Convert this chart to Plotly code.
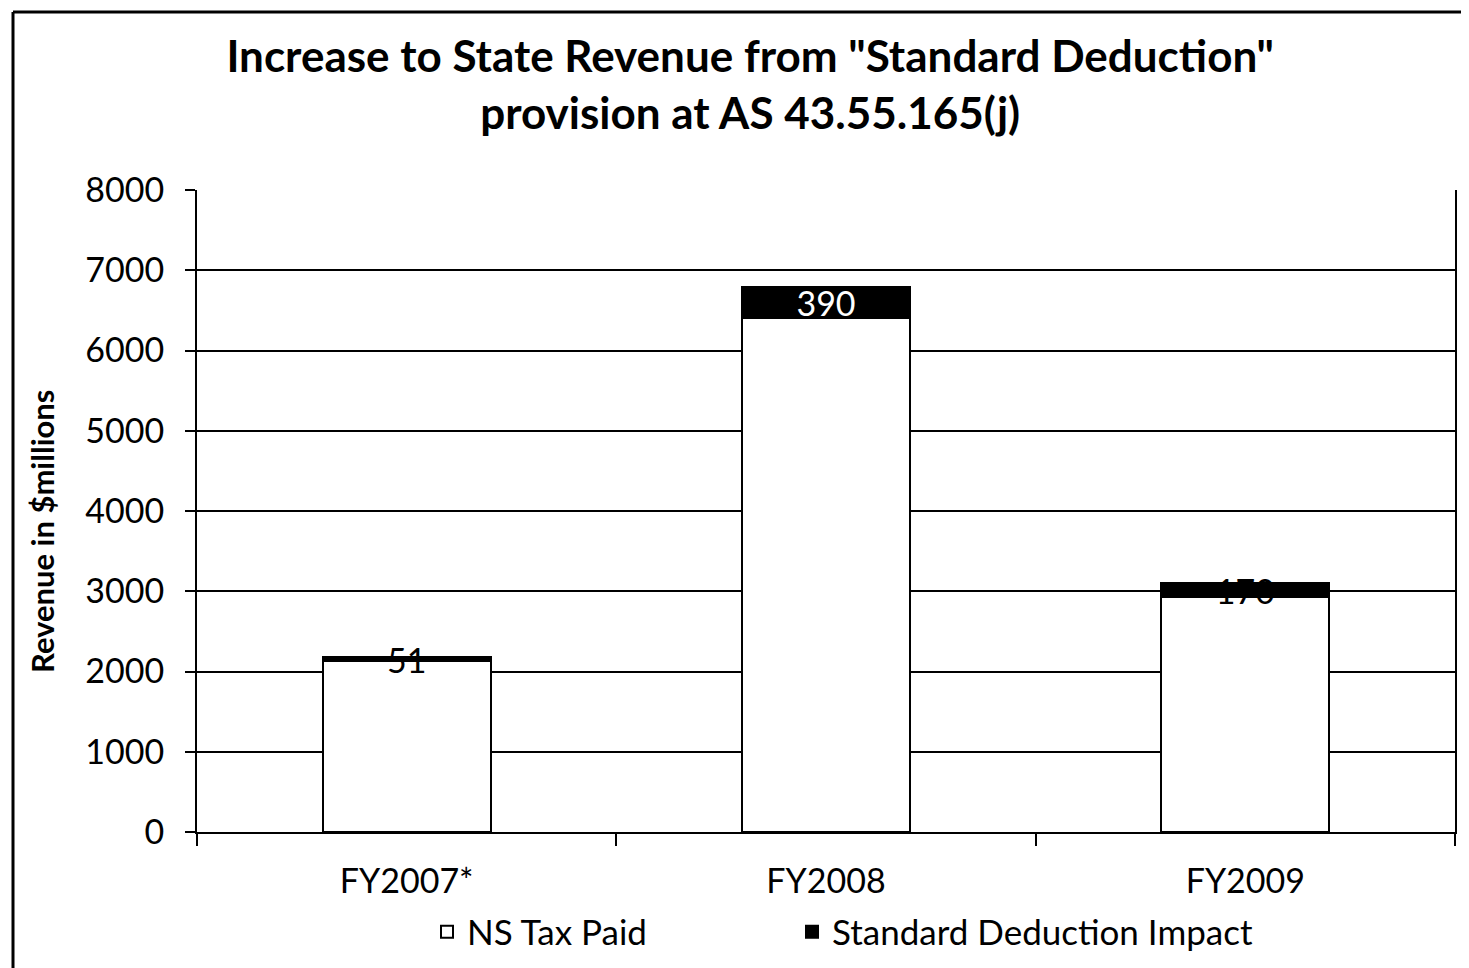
import plotly.graph_objects as go

categories = ["FY2007*", "FY2008", "FY2009"]
ns_tax_paid = [2130, 6400, 2930]
std_deduction = [51, 390, 170]
label_colors = ["black", "white", "black"]

FONT = "Lato"

# plot area in page pixels (page has an 8px body margin)
PL, PT, PW, PH = 197, 190, 1258, 642
OFF = 8
FW, FH = 1461, 960


def px_x(x):
    return (x - PL) / PW


def px_y(y):
    return (PT + PH - y) / PH


fig = go.Figure()
fig.add_trace(go.Bar(
    x=categories, y=ns_tax_paid, name="NS Tax Paid",
    marker=dict(color="white", line=dict(color="black", width=2)),
    hoverinfo="skip", legend="legend",
))
fig.add_trace(go.Bar(
    x=categories, y=std_deduction, name="Standard Deduction Impact",
    marker=dict(color="black", line=dict(color="black", width=2)),
    text=[str(v) for v in std_deduction],
    textposition="inside", insidetextanchor="middle", textangle=0,
    constraintext="none", cliponaxis=False,
    textfont=dict(family=FONT, size=34, color=label_colors),
    hoverinfo="skip", legend="legend2",
))

legend_common = dict(orientation="h", yanchor="middle", y=px_y(932),
                     font=dict(family=FONT, size=35, color="black"),
                     itemsizing="constant", bgcolor="rgba(0,0,0,0)")

fig.update_layout(
    barmode="stack", bargap=0.6,
    width=FW, height=FH,
    paper_bgcolor="white", plot_bgcolor="white",
    margin=dict(l=PL - OFF, r=FW - (PL - OFF) - PW, t=PT - OFF, b=FH - (PT - OFF) - PH, autoexpand=False),
    font=dict(family=FONT, color="black"),
    title=dict(
        text="<b>Increase to State Revenue from \"Standard Deduction\"<br>provision at AS 43.55.165(j)</b>",
        x=0.508, xanchor="center", y=1 - 64 / FH, yanchor="middle",
        font=dict(family=FONT, size=44, color="black"),
    ),
    showlegend=True,
    legend=dict(x=px_x(427), xanchor="left", **legend_common),
    legend2=dict(x=px_x(792), xanchor="left", **legend_common),
)
fig.update_xaxes(
    type="category", range=[-0.5, 2.5], automargin=False,
    showline=True, linecolor="black", linewidth=2,
    ticks="outside", tickson="boundaries", ticklen=12, tickwidth=2, tickcolor="black",
    tickfont=dict(family=FONT, size=34, color="black"),
    ticklabelstandoff=18,
    showgrid=False, mirror=False,
)
fig.update_yaxes(
    range=[0, 8000], dtick=1000, automargin=False,
    showline=True, linecolor="black", linewidth=2, mirror=True,
    ticks="outside", ticklen=10, tickwidth=2, tickcolor="black",
    ticklabelstandoff=14,
    showgrid=True, gridcolor="black", gridwidth=2,
    tickfont=dict(family=FONT, size=34, color="black"),
    zeroline=False,
)

# y-axis title
fig.add_annotation(text="<b>Revenue in $millions</b>", xref="paper", yref="paper",
                   x=px_x(42), y=px_y(532), xanchor="center", yanchor="middle",
                   textangle=-90, showarrow=False,
                   font=dict(family=FONT, size=31, color="black"))

# outer chart border (left, top)
bx0 = px_x(13)
by1 = px_y(12)
fig.add_shape(type="line", xref="paper", yref="paper",
              x0=bx0, x1=bx0, y0=px_y(970), y1=by1,
              line=dict(color="black", width=3))
fig.add_shape(type="line", xref="paper", yref="paper",
              x0=bx0, x1=px_x(1472), y0=by1, y1=by1,
              line=dict(color="black", width=3))

fig.write_html("out.html")
